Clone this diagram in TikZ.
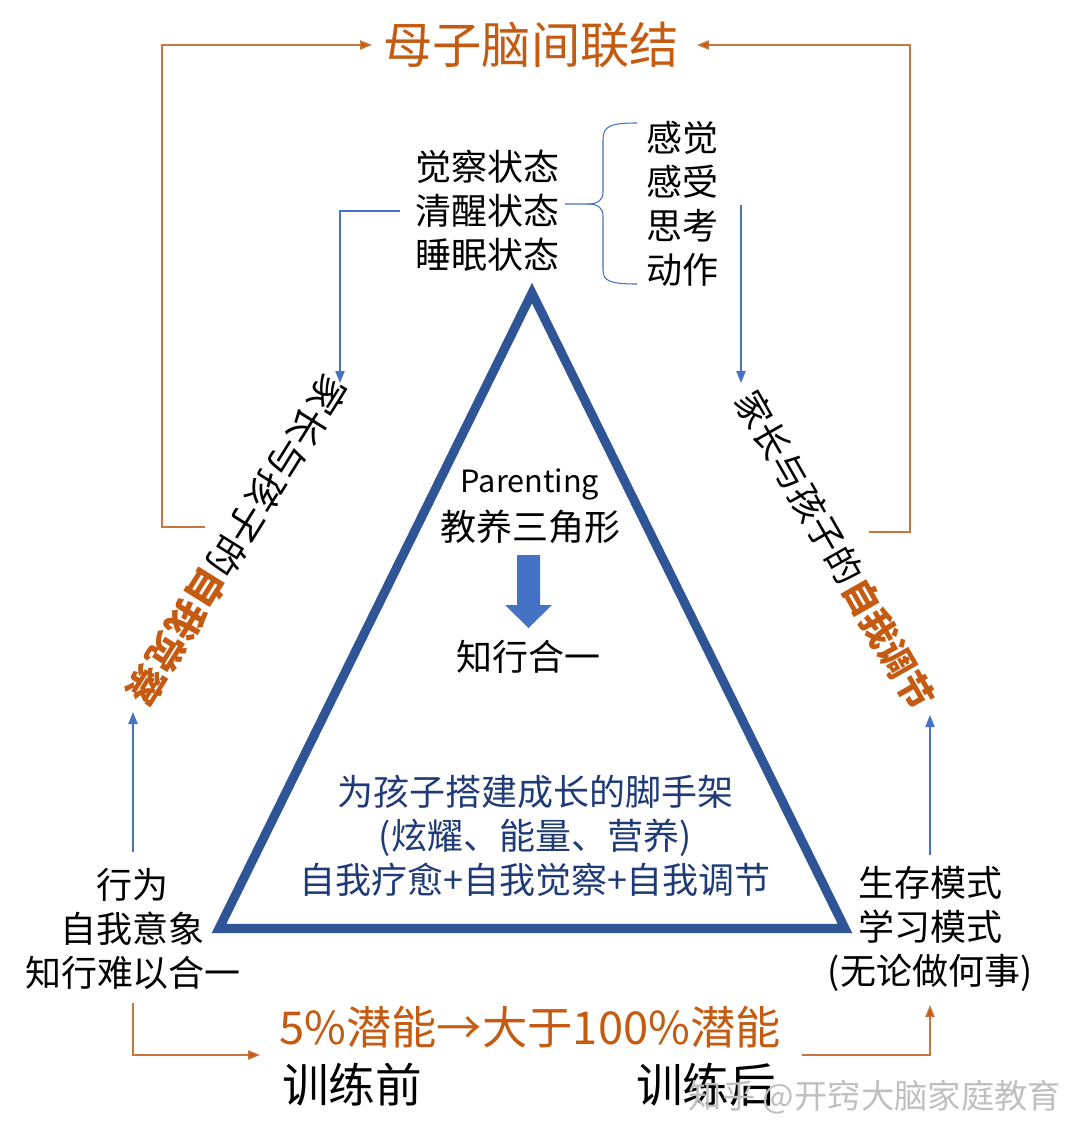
\documentclass[tikz,border=0pt]{standalone}
\usepackage{fontspec}
\setmainfont{Noto Sans CJK SC}
\usetikzlibrary{arrows.meta}
\definecolor{orgtxt}{HTML}{C55A11}
\definecolor{orgln}{HTML}{C9763E}
\definecolor{blueln}{HTML}{4472C4}
\definecolor{tri}{HTML}{2F5597}
\definecolor{navy}{HTML}{1F3B77}
\tikzset{
  txt/.style={inner sep=0pt, align=center, font=\fontsize{27}{33}\selectfont},
  oline/.style={draw=orgln, line width=1pt},
  bline/.style={draw=blueln, line width=0.8pt},
  otip/.style={-{Triangle[length=9pt,width=7pt,fill=orgtxt]}},
  btip/.style={-{Triangle[length=9pt,width=7pt,fill=blueln]}},
}
\begin{document}
\begin{tikzpicture}[x=0.75pt,y=-0.75pt]
\useasboundingbox[fill=white] (0,0) rectangle (1080,1142);

% title
\node[txt, text=orgtxt, font=\fontsize{37}{40}\selectfont] (title) at (531,45) {母子脑间联结};
\coordinate (tl) at (162,45);
\coordinate (tr) at (910,45);
\coordinate (lb) at (162,527);
\coordinate (lbe) at (205,527);
\coordinate (rb) at (910,532);
\coordinate (rbe) at (869,532);
\coordinate (tla) at (372,45);
\coordinate (tra) at (697,45);
\draw[oline, otip] (lbe) -- (lb) -- (tl) -- (tla);
\draw[oline, otip] (rbe) -- (rb) -- (tr) -- (tra);

% top states
\node[txt] (states) at (487,211) {觉察状态\\清醒状态\\睡眠状态};
\node[txt] (senses) at (682,204) {感觉\\感受\\思考\\动作};
\draw[bline] (565,204) -- (588,204) .. controls (598,204) and (603,200) .. (603,192) -- (603,140) .. controls (603,126) and (610,123) .. (637,123);
\draw[bline] (588,204) .. controls (598,204) and (603,208) .. (603,216) -- (603,270) .. controls (603,281) and (610,284) .. (637,284);

% blue arrows down
\coordinate (bl1) at (400,211);
\coordinate (bl2) at (340,211);
\coordinate (bl3) at (340,383);
\draw[bline, btip] (bl1) -- (bl2) -- (bl3);
\coordinate (br1) at (741,205);
\coordinate (br2) at (741,383);
\draw[bline, btip] (br1) -- (br2);

% triangle
\draw[draw=tri, line width=6.8pt, line join=miter] (532,293) -- (845,928.5) -- (219,928.5) -- cycle;

% inner texts
\node[txt, font=\fontsize{23}{28}\selectfont] (par) at (530,484) {Parenting};
\node[txt] (jy) at (530,527) {教养三角形};
\fill[blueln] (517,555) -- (540,555) -- (540,605) -- (552,605) -- (528.5,628) -- (505,605) -- (517,605) -- cycle;
\node[txt] (zx) at (528,657) {知行合一};
\node[txt, text=navy] (scaf) at (535,836) {为孩子搭建成长的脚手架\\(炫耀、能量、营养)\\自我疗愈+自我觉察+自我调节};

% rotated texts
\node[txt, rotate=-122, font=\fontsize{28.5}{33}\selectfont] (lrot) at (237,540) {家长与孩子的\textcolor{orgtxt}{\bfseries 自我觉察}};
\node[txt, rotate=-60.3] (rrot) at (835,550) {家长与孩子的\textcolor{orgtxt}{\bfseries 自我调节}};

% side texts
\node[txt] (lside) at (133,929) {行为\\自我意象\\知行难以合一};
\node[txt] (rside) at (930,929) {生存模式\\学习模式\\(无论做何事)};
\coordinate (la0) at (133,852);
\coordinate (la1) at (133,712);
\coordinate (ra0) at (930,855);
\coordinate (ra1) at (930,715);
\draw[bline, btip] (la0) -- (la1);
\draw[bline, btip] (ra0) -- (ra1);

% bottom
\node[txt, text=orgtxt, font=\fontsize{34}{38}\selectfont] (pot) at (530,1027) {5\%潜能→大于100\%潜能};
\node[txt, font=\fontsize{35}{38}\selectfont] (pre) at (352,1085) {训练前};
\node[txt, font=\fontsize{35}{38}\selectfont] (post) at (706,1085) {训练后};
\coordinate (lo0) at (133,1003);
\coordinate (lo1) at (133,1055);
\coordinate (lo2) at (260,1055);
\coordinate (ro0) at (802,1055);
\coordinate (ro1) at (930,1055);
\coordinate (ro2) at (930,1005);
\draw[oline, otip] (lo0) -- (lo1) -- (lo2);
\draw[oline, otip] (ro0) -- (ro1) -- (ro2);

% watermark
\node[txt, text=black!25, font=\fontsize{25}{28}\selectfont] (wm) at (875,1097) {知乎 @开窍大脑家庭教育};
\end{tikzpicture}
\end{document}
